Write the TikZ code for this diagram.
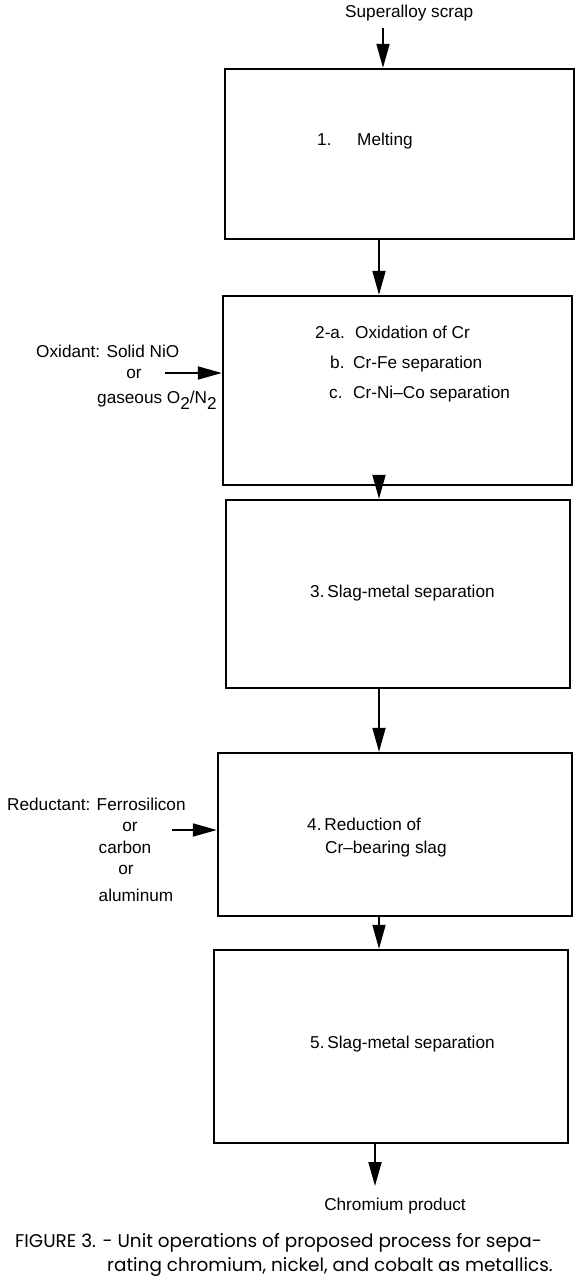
\documentclass[tikz,border=0pt]{standalone}
\usepackage{fontspec}
\setmainfont{Liberation Sans}
\newfontfamily\capfont{Poppins}
\usetikzlibrary{arrows.meta}

\newcommand\lowsub[1]{\raisebox{-6pt}{#1}}

\tikzset{
  unit/.style={draw,line width=2.4pt,inner sep=0pt},
  flow/.style={line width=1.8pt,-{Triangle[length=24pt,width=13pt]}},
  txt/.style={anchor=base west,inner sep=0pt,font=\fontsize{17.2}{20}\selectfont},
  ctr/.style={txt,anchor=base},
  capline/.style={anchor=base west,inner sep=0pt,font=\capfont\fontsize{18.4}{22}\selectfont}
}

\begin{document}
\begin{tikzpicture}[x=1pt,y=-1pt]
\useasboundingbox (0,0) rectangle (580,1280);

\node[unit,minimum width=349pt,minimum height=170pt] (melt) at (399.5,154) {};
\node[unit,minimum width=349pt,minimum height=189pt] (oxid) at (397.5,390.5) {};
\node[unit,minimum width=344pt,minimum height=188pt] (slagsep) at (398,594) {};
\node[unit,minimum width=354pt,minimum height=163pt] (reduce) at (395,834.5) {};
\node[unit,minimum width=354pt,minimum height=193pt] (finalsep) at (391,1046.5) {};

\node[txt] (scrap) at (345,17) {Superalloy scrap};
\node[txt] (meltno) at (317,145) {1.};
\node[txt] (melttext) at (357,145) {Melting};

\node[txt] (oxa) at (315,338) {2-a.};
\node[txt] (oxatext) at (355,338) {Oxidation of Cr};
\node[txt] (oxb) at (330,368) {b.};
\node[txt] (oxbtext) at (353,368) {Cr-Fe separation};
\node[txt] (oxc) at (329,398) {c.};
\node[txt] (oxctext) at (353,398) {Cr-Ni--Co separation};

\node[txt] (oxidant) at (36,357) {Oxidant: Solid NiO};
\node[ctr] (oxor) at (134,378) {or};
\node[txt] (gas) at (97,403) {gaseous O\lowsub{2}/N\lowsub{2}};

\node[txt] (slagtext) at (310,597) {3.\,Slag-metal separation};

\node[txt] (reductant) at (7,810) {Reductant: Ferrosilicon};
\node[ctr] (redor1) at (130,831) {or};
\node[ctr] (carbon) at (125,853) {carbon};
\node[ctr] (redor2) at (126,874) {or};
\node[ctr] (alu) at (136,901) {aluminum};

\node[txt] (redtext1) at (307,830) {4.\,Reduction of};
\node[txt] (redtext2) at (325,853) {Cr--bearing slag};

\node[txt] (finaltext) at (310,1048) {5.\,Slag-metal separation};
\node[ctr] (product) at (395,1210) {Chromium product};

\node[capline] (cap1) at (15,1247) {FIGURE 3. - Unit operations of proposed process for sepa-};
\node[capline] (cap2) at (107,1271) {rating chromium, nickel, and cobalt as metallics.};

\coordinate (feed) at (383,28);
\coordinate (axis) at (379,0);
\coordinate (oxin) at (165,373);
\coordinate (redin) at (172,830);
\coordinate (out) at (375,1186);

\draw[flow] (feed) -- (melt.north -| feed);
\draw[flow] (melt.south -| axis) -- (oxid.north -| axis);
\draw[flow] (oxid.south -| axis) -- (slagsep.north -| axis);
\draw[flow] (slagsep.south -| axis) -- (reduce.north -| axis);
\draw[flow] (reduce.south -| axis) -- (finalsep.north -| axis);
\draw[flow] (finalsep.south -| out) -- (out);
\draw[flow] (oxin) -- (oxid.west |- oxin);
\draw[flow] (redin) -- (reduce.west |- redin);
\end{tikzpicture}
\end{document}
